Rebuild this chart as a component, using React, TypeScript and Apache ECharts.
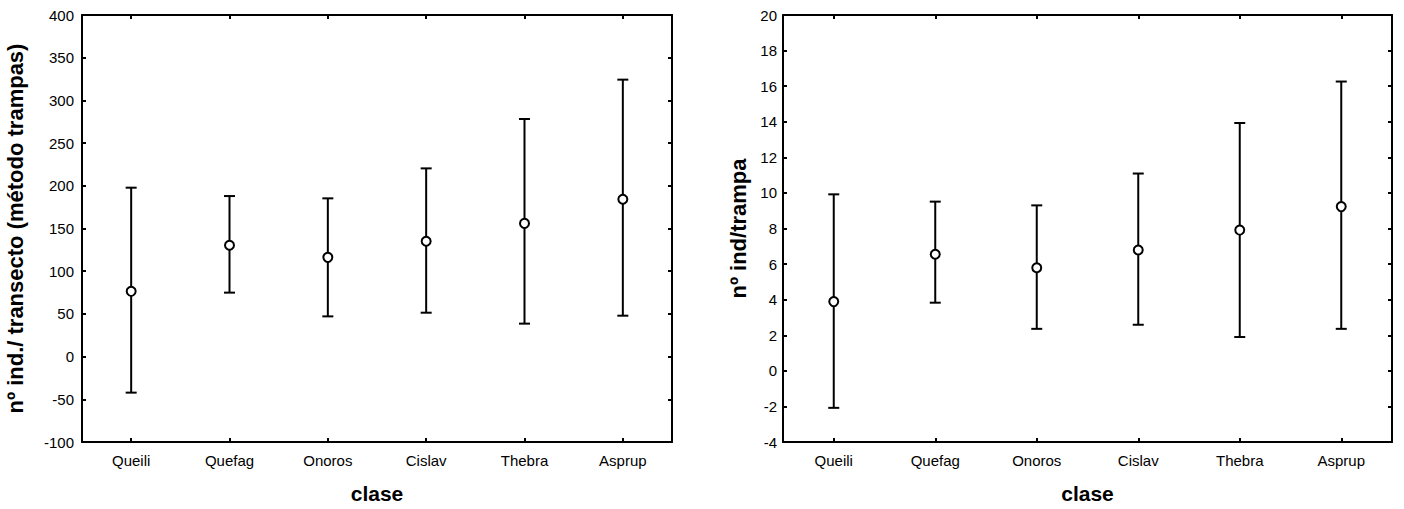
import React, { useEffect, useRef } from "react";
import * as echarts from "echarts";

const categories = ["Queili", "Quefag", "Onoros", "Cislav", "Thebra", "Asprup"];

// Left chart: nº ind./ transecto (método trampas)
const leftMean = [76.4, 130.3, 116.2, 135, 156, 184.2];
const leftLow = [-42.2, 74.9, 47.1, 51.4, 38.6, 47.9];
const leftHigh = [197.8, 188, 185.3, 220.4, 278.2, 324.3];

// Right chart: nº ind/trampa
const rightMean = [3.89, 6.55, 5.79, 6.79, 7.91, 9.23];
const rightLow = [-2.08, 3.83, 2.36, 2.59, 1.9, 2.36];
const rightHigh = [9.92, 9.51, 9.3, 11.09, 13.93, 16.26];

const FONT = "'Liberation Sans', Arial, sans-serif";

function errorData(low: number[], high: number[]) {
  return categories.map((_, i) => [i, low[i], high[i]]);
}
function meanData(mean: number[]) {
  return categories.map((_, i) => [i, mean[i]]);
}

const renderError = (params: any, api: any) => {
  const x = api.value(0);
  const lo = api.coord([x, api.value(1)]);
  const hi = api.coord([x, api.value(2)]);
  const hw = 5.5;
  const style = { stroke: "#000", lineWidth: 2, fill: "none" };
  return {
    type: "group",
    children: [
      { type: "line", shape: { x1: lo[0], y1: lo[1], x2: hi[0], y2: hi[1] }, style },
      { type: "line", shape: { x1: hi[0] - hw, y1: hi[1], x2: hi[0] + hw, y2: hi[1] }, style },
      { type: "line", shape: { x1: lo[0] - hw, y1: lo[1], x2: lo[0] + hw, y2: lo[1] }, style },
    ],
  };
};

const axisLine = { show: true, onZero: false, lineStyle: { color: "#000", width: 2 } };
const axisTick = { show: true, inside: true, length: 4, lineStyle: { color: "#000", width: 2 } };

function xAxes(grid: number) {
  return [
    {
      type: "category",
      gridIndex: grid,
      data: categories,
      position: "bottom",
      boundaryGap: true,
      axisLine,
      axisTick: { ...axisTick, alignWithLabel: true },
      axisLabel: { color: "#000", fontSize: 15, fontFamily: FONT, margin: 11 },
      name: "clase",
      nameLocation: "middle",
      nameGap: 41,
      nameTextStyle: { color: "#000", fontSize: 21, fontWeight: "bold", fontFamily: FONT },
      splitLine: { show: false },
    },
    {
      type: "category",
      gridIndex: grid,
      data: categories,
      position: "top",
      boundaryGap: true,
      axisLine,
      axisTick: { ...axisTick, alignWithLabel: true },
      axisLabel: { show: false },
      splitLine: { show: false },
    },
  ];
}

function yAxes(grid: number, min: number, max: number, interval: number, name: string, nameGap: number, labelMargin: number) {
  return [
    {
      type: "value",
      gridIndex: grid,
      position: "left",
      min,
      max,
      interval,
      axisLine,
      axisTick,
      axisLabel: { color: "#000", fontSize: 15, fontFamily: FONT, margin: labelMargin },
      splitLine: { show: false },
      name,
      nameLocation: "middle",
      nameGap,
      nameTextStyle: { color: "#000", fontSize: 22, fontWeight: "bold", fontFamily: FONT },
    },
    {
      type: "value",
      gridIndex: grid,
      position: "right",
      min,
      max,
      interval,
      axisLine,
      axisTick,
      axisLabel: { show: false },
      splitLine: { show: false },
    },
  ];
}

export default function App() {
  const ref = useRef<HTMLDivElement>(null);
  useEffect(() => {
    if (!ref.current) return;
    const chart = echarts.init(ref.current, null, { renderer: "svg" });
    chart.setOption({
      animation: false,
      backgroundColor: "#fff",
      grid: [
        { left: 82, top: 15, width: 590, height: 428 },
        { left: 783, top: 15, width: 609, height: 428 },
      ],
      xAxis: [...xAxes(0), ...xAxes(1)],
      yAxis: [
        ...yAxes(0, -100, 400, 50, "nº ind./ transecto (método trampas)", 56, 8),
        ...yAxes(1, -4, 20, 2, "nº ind/trampa", 34, 6),
      ],
      series: [
        {
          type: "custom",
          xAxisIndex: 0,
          yAxisIndex: 0,
          renderItem: renderError,
          encode: { x: 0, y: [1, 2] },
          data: errorData(leftLow, leftHigh),
          z: 2,
        },
        {
          type: "scatter",
          xAxisIndex: 0,
          yAxisIndex: 0,
          data: meanData(leftMean),
          symbol: "circle",
          symbolSize: 9,
          itemStyle: { color: "#fff", borderColor: "#000", borderWidth: 2, opacity: 1 },
          z: 3,
        },
        {
          type: "custom",
          xAxisIndex: 2,
          yAxisIndex: 2,
          renderItem: renderError,
          encode: { x: 0, y: [1, 2] },
          data: errorData(rightLow, rightHigh),
          z: 2,
        },
        {
          type: "scatter",
          xAxisIndex: 2,
          yAxisIndex: 2,
          data: meanData(rightMean),
          symbol: "circle",
          symbolSize: 9,
          itemStyle: { color: "#fff", borderColor: "#000", borderWidth: 2, opacity: 1 },
          z: 3,
        },
      ],
    });
    return () => chart.dispose();
  }, []);
  return (
    <div
      ref={ref}
      style={{ position: "fixed", left: 0, top: 0, width: 1404, height: 509, background: "#fff" }}
    />
  );
}
